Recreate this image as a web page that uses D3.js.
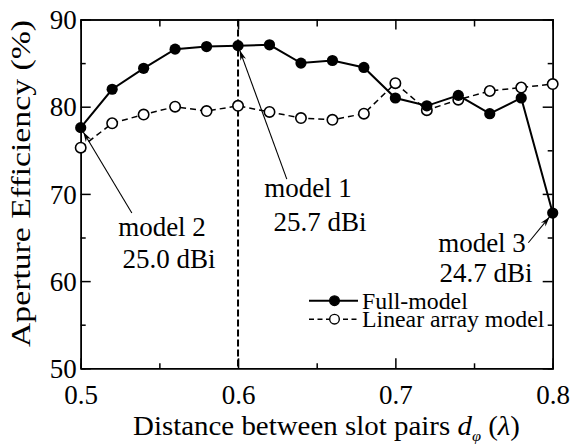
<!DOCTYPE html>
<html>
<head>
<meta charset="utf-8">
<script src="https://cdn.jsdelivr.net/npm/d3@7"></script>
<style>
  body { margin: 0; background: #fff; }
</style>
</head>
<body>
<div id="chart"></div>
<script>
// distance between slot pairs (lambda)
var distances = [0.50, 0.52, 0.54, 0.56, 0.58, 0.60, 0.62, 0.64, 0.66, 0.68, 0.70, 0.72, 0.74, 0.76, 0.78, 0.80];
// aperture efficiency (%)
var fullModel = [77.6, 82.0, 84.4, 86.6, 86.9, 87.0, 87.1, 85.0, 85.3, 84.5, 81.0, 80.1, 81.3, 79.2, 81.0, 67.8];
var linearModel = [75.3, 78.1, 79.1, 80.0, 79.5, 80.1, 79.4, 78.7, 78.5, 79.2, 82.7, 79.6, 80.8, 81.8, 82.2, 82.6];
var xTicks = [0.5, 0.6, 0.7, 0.8];
var xMinor = [0.55, 0.65, 0.75];
var yTicks = [50, 60, 70, 80, 90];
var yMinor = [55, 65, 75, 85];
var seriesNames = ["Full-model", "Linear array model"];

var FONT = "'Liberation Serif', 'Times New Roman', Times, 'DejaVu Serif', serif";

var W = 573, H = 448;
var margin = {top: 19.5, right: 20.3, bottom: 79.7, left: 80.7},
    width = W - margin.left - margin.right,
    height = H - margin.top - margin.bottom;

var svg = d3.select("#chart")
  .append("svg")
    .attr("width", W)
    .attr("height", H)
    .style("font-family", FONT);

svg.append("defs").append("marker")
    .attr("id", "arrow")
    .attr("viewBox", "0 0 10 10")
    .attr("refX", 10).attr("refY", 5)
    .attr("markerWidth", 10).attr("markerHeight", 10)
    .attr("markerUnits", "userSpaceOnUse")
    .attr("orient", "auto")
  .append("path")
    .attr("d", "M0,2 L10,5 L0,8 L3,5 Z")
    .attr("fill", "#000");

var g = svg.append("g")
    .attr("transform", "translate(" + margin.left + "," + margin.top + ")");

var x = d3.scaleLinear().domain([0.5, 0.8]).range([0, width]);
var y = d3.scaleLinear().domain([50, 90]).range([height, 0]);

function styleAxis(sel) {
  sel.attr("font-family", null);
  sel.selectAll("path, line").attr("stroke", "#000").attr("stroke-width", 1.5);
  sel.selectAll("text")
      .style("font-family", FONT)
      .style("font-size", "27px")
      .attr("fill", "#000");
}

// bottom axis
g.append("g")
    .attr("transform", "translate(0," + height + ")")
    .call(d3.axisBottom(x).tickValues(xTicks).tickSizeInner(-10).tickSizeOuter(0)
          .tickPadding(17).tickFormat(d3.format(".1f")))
    .call(styleAxis);
g.append("g")
    .attr("transform", "translate(0," + height + ")")
    .call(d3.axisBottom(x).tickValues(xMinor).tickSize(-5).tickFormat(""))
    .call(styleAxis);
// top axis
g.append("g")
    .call(d3.axisTop(x).tickValues(xTicks).tickSizeInner(-10).tickSizeOuter(0).tickFormat(""))
    .call(styleAxis);
g.append("g")
    .call(d3.axisTop(x).tickValues(xMinor).tickSize(-7).tickFormat(""))
    .call(styleAxis);
// left axis
g.append("g")
    .call(d3.axisLeft(y).tickValues(yTicks).tickSizeInner(-10).tickSizeOuter(0).tickPadding(4))
    .call(styleAxis)
    .selectAll("text").attr("dy", "0.34em");
g.append("g")
    .call(d3.axisLeft(y).tickValues(yMinor).tickSize(-5).tickFormat(""))
    .call(styleAxis);
// right axis
g.append("g")
    .attr("transform", "translate(" + width + ",0)")
    .call(d3.axisRight(y).tickValues(yTicks).tickSizeInner(-10).tickSizeOuter(0).tickFormat(""))
    .call(styleAxis);
g.append("g")
    .attr("transform", "translate(" + width + ",0)")
    .call(d3.axisRight(y).tickValues(yMinor).tickSize(-5).tickFormat(""))
    .call(styleAxis);

// dashed vertical line at 0.6
g.append("line")
    .attr("x1", x(0.6)).attr("x2", x(0.6))
    .attr("y1", 0).attr("y2", height)
    .attr("stroke", "#000")
    .attr("stroke-width", 2)
    .attr("stroke-dasharray", "7,3");

var line = d3.line()
    .x(function(d) { return x(d[0]); })
    .y(function(d) { return y(d[1]); });

var fullData = distances.map(function(d, i) { return [d, fullModel[i]]; });
var linData = distances.map(function(d, i) { return [d, linearModel[i]]; });

// linear array model
g.append("path")
    .datum(linData)
    .attr("fill", "none")
    .attr("stroke", "#000")
    .attr("stroke-width", 1.5)
    .attr("stroke-dasharray", "6,4")
    .attr("d", line);
g.append("g").selectAll("circle")
    .data(linData)
    .enter().append("circle")
      .attr("cx", function(d) { return x(d[0]); })
      .attr("cy", function(d) { return y(d[1]); })
      .attr("r", 5.2)
      .attr("fill", "#fff")
      .attr("stroke", "#000")
      .attr("stroke-width", 1.6);

// full model
g.append("path")
    .datum(fullData)
    .attr("fill", "none")
    .attr("stroke", "#000")
    .attr("stroke-width", 2)
    .attr("d", line);
g.append("g").selectAll("circle")
    .data(fullData)
    .enter().append("circle")
      .attr("cx", function(d) { return x(d[0]); })
      .attr("cy", function(d) { return y(d[1]); })
      .attr("r", 5.6)
      .attr("fill", "#000");

// annotations: arrow from text (sx, sy in data units) to the marked point
var notes = [
  {px: 0.6, py: fullModel[5], sx: 0.631, sy: 71.7, lines: ["model 1", "25.7 dBi"], tx: [308, 320], ty: [197, 231]},
  {px: 0.5, py: fullModel[0], sx: 0.5325, sy: 67.8, lines: ["model 2", "25.0 dBi"], tx: [162, 169], ty: [236, 268]},
  {px: 0.8, py: fullModel[15], sx: 0.7845, sy: 64.4, lines: ["model 3", "24.7 dBi"], tx: [482, 486], ty: [252, 282]}
];

notes.forEach(function(n) {
  var x0 = x(n.sx), y0 = y(n.sy), x1 = x(n.px), y1 = y(n.py);
  var dx = x1 - x0, dy = y1 - y0, len = Math.sqrt(dx * dx + dy * dy);
  var k = (len - 5) / len;
  g.append("line")
      .attr("x1", x0).attr("y1", y0)
      .attr("x2", x0 + dx * k).attr("y2", y0 + dy * k)
      .attr("stroke", "#000")
      .attr("stroke-width", 1.1)
      .attr("marker-end", "url(#arrow)");
  n.lines.forEach(function(t, i) {
    svg.append("text")
        .attr("x", n.tx[i]).attr("y", n.ty[i])
        .attr("text-anchor", "middle")
        .style("font-size", "27px")
        .text(t);
  });
});

// legend
var legend = svg.append("g");
[0, 1].forEach(function(i) {
  var ly = 300.7 + i * 18.5;
  legend.append("line")
      .attr("x1", 309).attr("x2", 358)
      .attr("y1", ly).attr("y2", ly)
      .attr("stroke", "#000")
      .attr("stroke-width", i === 0 ? 2 : 1.5)
      .attr("stroke-dasharray", i === 0 ? null : "5,3.5");
  legend.append("circle")
      .attr("cx", 334.5).attr("cy", ly)
      .attr("r", 4.8)
      .attr("fill", i === 0 ? "#000" : "#fff")
      .attr("stroke", "#000")
      .attr("stroke-width", 1.4);
  legend.append("text")
      .attr("x", 362).attr("y", ly)
      .attr("dy", "0.33em")
      .style("font-size", "23.8px")
      .text(seriesNames[i]);
});

// axis titles
var xt = svg.append("text")
    .attr("x", 133).attr("y", 435)
    .attr("textLength", 387)
    .attr("lengthAdjust", "spacingAndGlyphs")
    .style("font-size", "26.5px");
xt.append("tspan").text("Distance between slot pairs ");
xt.append("tspan").style("font-style", "italic").text("d");
xt.append("tspan").style("font-style", "italic").style("font-size", "15px").attr("dy", 6).text("\u03c6");
xt.append("tspan").attr("dy", -6).text(" (");
xt.append("tspan").style("font-style", "italic").text("\u03bb");
xt.append("tspan").text(")");

svg.append("text")
    .attr("transform", "translate(30,347) rotate(-90)")
    .attr("textLength", 327)
    .attr("lengthAdjust", "spacingAndGlyphs")
    .style("font-size", "26.5px")
    .text("Aperture Efficiency (%)");
</script>
</body>
</html>
